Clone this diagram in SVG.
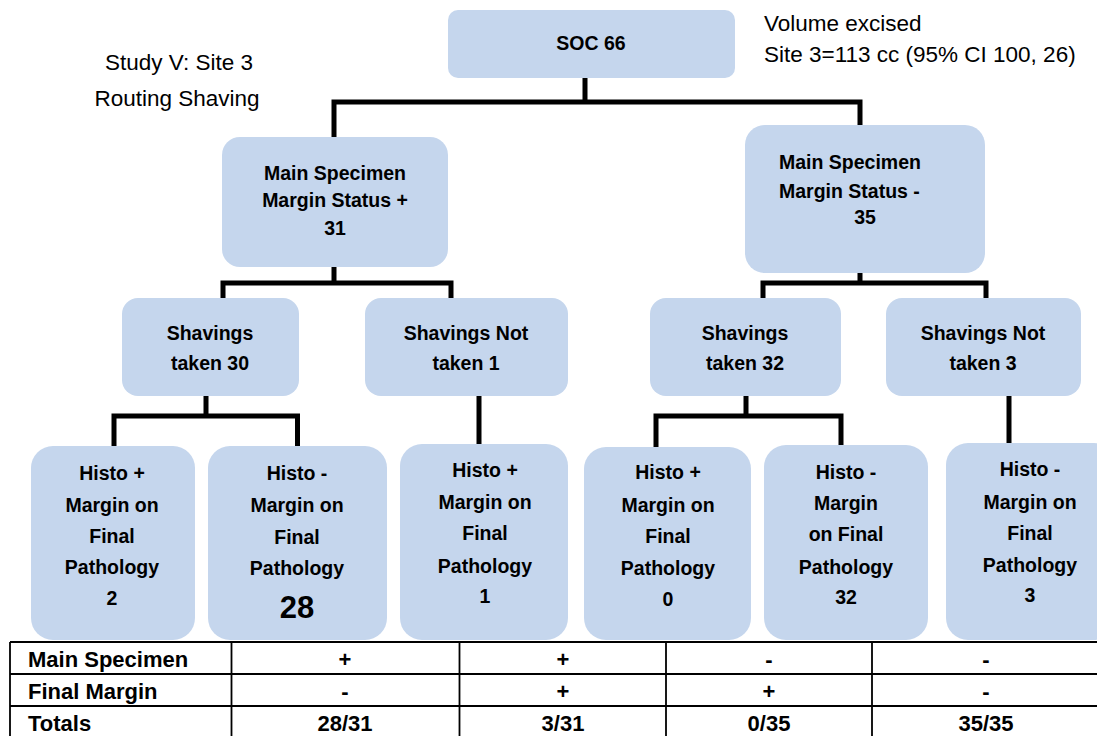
<svg xmlns="http://www.w3.org/2000/svg" width="1097" height="736" viewBox="0 0 1097 736">
<style>
.box{fill:#C5D6ED}
.t{font-family:"Liberation Sans",Arial,sans-serif;font-weight:bold;font-size:19.5px;fill:#000;text-anchor:middle;dominant-baseline:central}
.l{text-anchor:start}
.big{font-size:31px}
.plain{font-family:"Liberation Sans",Arial,sans-serif;font-size:22.5px;fill:#000;dominant-baseline:central}
.tb{font-family:"Liberation Sans",Arial,sans-serif;font-weight:bold;font-size:22px;fill:#000;dominant-baseline:central}
.c{text-anchor:middle}
.conn{fill:none;stroke:#000;stroke-width:5}
.grid{stroke:#000;stroke-width:1.8;fill:none}
</style>
<rect width="1097" height="736" fill="#fff"/>
<g id="title">
<text class="plain c" x="179" y="62">Study V: Site 3</text>
<text class="plain c" x="177" y="98">Routing Shaving</text>
</g>
<g id="volume">
<text class="plain" x="764" y="23">Volume excised</text>
<text class="plain" x="764" y="54">Site 3=113 cc (95% CI 100, 26)</text>
</g>
<g id="connectors">
<path class="conn" d="M585,78 V102 M334,137 V102 H860 V125"/>
<path class="conn" d="M334,267 V283 M223,298 V283 H451 V298"/>
<path class="conn" d="M206,396 V416 M114,446 V416 H297.5 V446"/>
<path class="conn" d="M479,396 V444"/>
<path class="conn" d="M860,273 V283 M763,298 V283 H986 V298"/>
<path class="conn" d="M746,396 V416 M656,447 V416 H841 V446"/>
<path class="conn" d="M1009,396 V443"/>
</g>
<g id="soc">
<rect class="box" x="448" y="10" width="287" height="68" rx="10"/>
<text class="t" x="591" y="43">SOC 66</text>
</g>
<g id="main-pos">
<rect class="box" x="222" y="137" width="226" height="130" rx="18"/>
<text class="t" x="335" y="173">Main Specimen</text>
<text class="t" x="335" y="200">Margin Status +</text>
<text class="t" x="335" y="228">31</text>
</g>
<g id="main-neg">
<rect class="box" x="745" y="125" width="240" height="148" rx="20"/>
<text class="t l" x="779" y="162">Main Specimen</text>
<text class="t l" x="779" y="191">Margin Status -</text>
<text class="t" x="865" y="217">35</text>
</g>
<g id="shav30">
<rect class="box" x="122" y="298" width="177" height="98" rx="16"/>
<text class="t" x="210" y="333">Shavings</text>
<text class="t" x="210" y="363">taken 30</text>
</g>
<g id="notshav1">
<rect class="box" x="365" y="298" width="203" height="98" rx="16"/>
<text class="t" x="466" y="333">Shavings Not</text>
<text class="t" x="466" y="363">taken 1</text>
</g>
<g id="shav32">
<rect class="box" x="650" y="298" width="191" height="98" rx="16"/>
<text class="t" x="745" y="333">Shavings</text>
<text class="t" x="745" y="363">taken 32</text>
</g>
<g id="notshav3">
<rect class="box" x="886" y="298" width="195" height="98" rx="16"/>
<text class="t" x="983" y="333">Shavings Not</text>
<text class="t" x="983" y="363">taken 3</text>
</g>
<g id="histo1">
<rect class="box" x="31" y="446" width="164" height="194" rx="22"/>
<text class="t" x="112" y="473">Histo +</text>
<text class="t" x="112" y="505">Margin on</text>
<text class="t" x="112" y="536">Final</text>
<text class="t" x="112" y="567">Pathology</text>
<text class="t" x="112" y="598">2</text>
</g>
<g id="histo2">
<rect class="box" x="208" y="446" width="179" height="194" rx="22"/>
<text class="t" x="297" y="473">Histo -</text>
<text class="t" x="297" y="505">Margin on</text>
<text class="t" x="297" y="537">Final</text>
<text class="t" x="297" y="568">Pathology</text>
<text class="t big" x="297" y="607">28</text>
</g>
<g id="histo3">
<rect class="box" x="400" y="444" width="168" height="196" rx="22"/>
<text class="t" x="485" y="470">Histo +</text>
<text class="t" x="485" y="502">Margin on</text>
<text class="t" x="485" y="533">Final</text>
<text class="t" x="485" y="566">Pathology</text>
<text class="t" x="485" y="596">1</text>
</g>
<g id="histo4">
<rect class="box" x="584" y="447" width="167" height="193" rx="22"/>
<text class="t" x="668" y="472">Histo +</text>
<text class="t" x="668" y="505">Margin on</text>
<text class="t" x="668" y="536">Final</text>
<text class="t" x="668" y="568">Pathology</text>
<text class="t" x="668" y="599">0</text>
</g>
<g id="histo5">
<rect class="box" x="764" y="445" width="164" height="195" rx="22"/>
<text class="t" x="846" y="472">Histo -</text>
<text class="t" x="846" y="503">Margin</text>
<text class="t" x="846" y="534">on Final</text>
<text class="t" x="846" y="567">Pathology</text>
<text class="t" x="846" y="597">32</text>
</g>
<g id="histo6">
<rect class="box" x="946" y="443" width="170" height="197" rx="22"/>
<text class="t" x="1030" y="469">Histo -</text>
<text class="t" x="1030" y="502">Margin on</text>
<text class="t" x="1030" y="533">Final</text>
<text class="t" x="1030" y="565">Pathology</text>
<text class="t" x="1030" y="595">3</text>
</g>
<g id="table">
<path class="grid" d="M10,642 H1100 M10,674 H1100 M10,706 H1100 M10,642 V740 M231.5,642 V740 M459.5,642 V740 M666,642 V740 M872,642 V740"/>
<text class="tb" x="28" y="659">Main Specimen</text>
<text class="tb" x="28" y="691">Final Margin</text>
<text class="tb" x="28" y="723">Totals</text>
<text class="tb c" x="345" y="659">+</text>
<text class="tb c" x="563" y="659">+</text>
<text class="tb c" x="769" y="659">-</text>
<text class="tb c" x="986" y="659">-</text>
<text class="tb c" x="345" y="691">-</text>
<text class="tb c" x="563" y="691">+</text>
<text class="tb c" x="769" y="691">+</text>
<text class="tb c" x="986" y="691">-</text>
<text class="tb c" x="345" y="723">28/31</text>
<text class="tb c" x="563" y="723">3/31</text>
<text class="tb c" x="769" y="723">0/35</text>
<text class="tb c" x="986" y="723">35/35</text>
</g>
</svg>
